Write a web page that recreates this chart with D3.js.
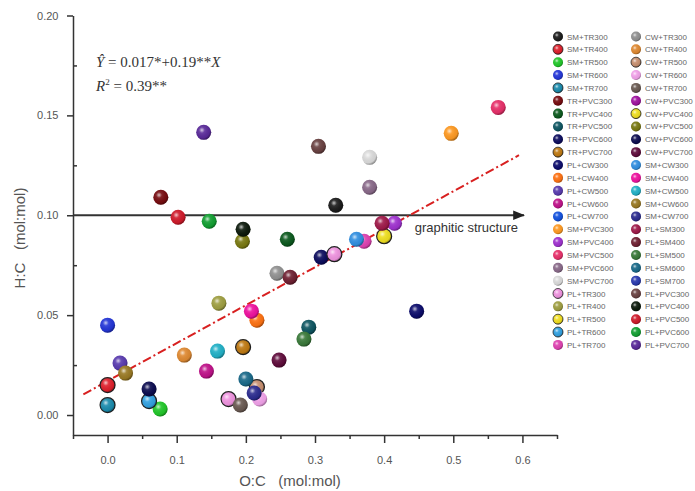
<!DOCTYPE html>
<html>
<head>
<meta charset="utf-8">
<script src="https://cdn.jsdelivr.net/npm/d3@7"></script>
<style>
    body { margin: 0; background: #fff; }
    svg { display: block; font-family: "Liberation Sans", Arial, sans-serif; }
    .tick text { fill: #555; font-size: 11px; }
    .domain, .tick line { stroke: #333; stroke-width: 1.5; }
    .legend-text { fill: #666; font-size: 8px; }
    .axis-title { fill: #555; font-size: 15px; }
    .eq { font-family: "Liberation Serif", "Times New Roman", serif; font-size: 15px; fill: #333; }
</style>
</head>
<body>
<div id="chart"></div>
<script>
(function() {
    var width = 695,
        height = 491;

    // legend categories & colours (two columns)
    var legend_left = ['SM+TR300', 'SM+TR400', 'SM+TR500', 'SM+TR600', 'SM+TR700',
        'TR+PVC300', 'TR+PVC400', 'TR+PVC500', 'TR+PVC600', 'TR+PVC700',
        'PL+CW300', 'PL+CW400', 'PL+CW500', 'PL+CW600', 'PL+CW700',
        'SM+PVC300', 'SM+PVC400', 'SM+PVC500', 'SM+PVC600', 'SM+PVC700',
        'PL+TR300', 'PL+TR400', 'PL+TR500', 'PL+TR600', 'PL+TR700'];
    var legend_right = ['CW+TR300', 'CW+TR400', 'CW+TR500', 'CW+TR600', 'CW+TR700',
        'CW+PVC300', 'CW+PVC400', 'CW+PVC500', 'CW+PVC600', 'CW+PVC700',
        'SM+CW300', 'SM+CW400', 'SM+CW500', 'SM+CW600', 'SM+CW700',
        'PL+SM300', 'PL+SM400', 'PL+SM500', 'PL+SM600', 'PL+SM700',
        'PL+PVC300', 'PL+PVC400', 'PL+PVC500', 'PL+PVC600', 'PL+PVC700'];
    var colors_left = ['#1c1c1c', '#e0202c', '#22c82a', '#2436d8', '#1a8cae',
        '#780c10', '#0c5a1e', '#0e5662', '#0c0c5e', '#c07a12',
        '#0c0c6c', '#ff7212', '#5a3cb0', '#c0128a', '#1252e0',
        '#ff9a22', '#a032d0', '#e8306a', '#8a6a8a', '#dcdcdc',
        '#f094e0', '#a0a042', '#f2e020', '#32a2e2', '#e042b2'];
    var colors_right = ['#929292', '#e08a32', '#c89070', '#f2a2ea', '#6a5a52',
        '#a012a0', '#f0e020', '#7a7a12', '#0c0c50', '#600c3c',
        '#3290e2', '#f012a0', '#22b2c8', '#9a7a24', '#2c2c90',
        '#a01a4a', '#702032', '#3a7a3a', '#1a6a8a', '#2a3ab0',
        '#6a4242', '#0c1a0c', '#d01a2a', '#12a032', '#5a2a9a'];
    // entries drawn with a dark rim
    var outlined = ['SM+TR400', 'TR+PVC700', 'PL+TR300', 'PL+TR500', 'PL+TR600',
        'CW+TR500', 'CW+PVC400', 'SM+TR700'];

    // points: O:C (x) and H:C (y)
    var point_cat = ['SM+TR300', 'SM+TR400', 'SM+TR500', 'SM+TR600', 'SM+TR700',
        'TR+PVC300', 'TR+PVC400', 'TR+PVC500', 'TR+PVC600', 'TR+PVC700',
        'PL+CW300', 'PL+CW400', 'PL+CW500', 'PL+CW600',
        'SM+PVC300', 'SM+PVC400', 'SM+PVC500', 'SM+PVC600', 'SM+PVC700',
        'PL+TR300', 'PL+TR400', 'PL+TR600', 'PL+TR700',
        'CW+TR300', 'CW+TR400', 'CW+TR500', 'CW+TR600', 'CW+TR700',
        'CW+PVC400', 'CW+PVC500', 'CW+PVC600', 'CW+PVC700',
        'SM+CW300', 'SM+CW400', 'SM+CW500', 'SM+CW600', 'SM+CW700',
        'PL+SM300', 'PL+SM400', 'PL+SM500', 'PL+SM600',
        'PL+PVC300', 'PL+PVC400', 'PL+PVC500', 'PL+PVC600', 'PL+PVC700',
        'PL+TR300'];
    var point_x = [0.330, 0.000, 0.076, 0.000, 0.000,
        0.077, 0.260, 0.291, 0.309, 0.196,
        0.447, 0.216, 0.018, 0.143,
        0.497, 0.415, 0.565, 0.379, 0.379,
        0.175, 0.161, 0.060, 0.371,
        0.245, 0.111, 0.216, 0.220, 0.192,
        0.400, 0.195, 0.060, 0.248,
        0.360, 0.208, 0.159, 0.026, 0.212,
        0.397, 0.264, 0.284, 0.200,
        0.305, 0.196, 0.102, 0.147, 0.139,
        0.328];
    var point_y = [0.105, 0.015, 0.003, 0.045, 0.005,
        0.109, 0.088, 0.044, 0.079, 0.034,
        0.052, 0.0475, 0.026, 0.022,
        0.141, 0.096, 0.154, 0.114, 0.129,
        0.008, 0.056, 0.007, 0.087,
        0.071, 0.030, 0.014, 0.008, 0.005,
        0.0895, 0.087, 0.013, 0.0275,
        0.088, 0.052, 0.032, 0.021, 0.011,
        0.096, 0.069, 0.038, 0.018,
        0.1345, 0.093, 0.099, 0.097, 0.1415,
        0.0805];

    var x_ticks = [0, 0.1, 0.2, 0.3, 0.4, 0.5, 0.6],
        x_minor = [-0.05, 0.05, 0.15, 0.25, 0.35, 0.45, 0.55, 0.65],
        y_ticks = [0, 0.05, 0.10, 0.15, 0.20],
        y_minor = [0.025, 0.075, 0.125, 0.175];

    var fit = { a: 0.017, b: 0.19, x0: -0.035, x1: 0.595 };

    var color_of = {};
    legend_left.forEach(function(c, i) { color_of[c] = colors_left[i]; });
    legend_right.forEach(function(c, i) { color_of[c] = colors_right[i]; });

    var x = d3.scaleLinear().domain([-0.05, 0.65]).range([73, 557]);
    var y = d3.scaleLinear().domain([-0.01, 0.20]).range([435, 15.5]);

    var svg = d3.select('#chart').append('svg')
        .attr('width', width)
        .attr('height', height);

    // sphere shine
    var defs = svg.append('defs');
    var shine = defs.append('radialGradient')
        .attr('id', 'shine')
        .attr('cx', '38%').attr('cy', '35%').attr('r', '65%');
    shine.append('stop').attr('offset', '0%').attr('stop-color', '#fff').attr('stop-opacity', 0.75);
    shine.append('stop').attr('offset', '30%').attr('stop-color', '#fff').attr('stop-opacity', 0.1);
    shine.append('stop').attr('offset', '80%').attr('stop-color', '#000').attr('stop-opacity', 0.05);
    shine.append('stop').attr('offset', '100%').attr('stop-color', '#000').attr('stop-opacity', 0.35);
    defs.append('marker')
        .attr('id', 'arrow')
        .attr('viewBox', '0 0 10 10')
        .attr('refX', 9).attr('refY', 5)
        .attr('markerWidth', 6).attr('markerHeight', 6)
        .attr('orient', 'auto')
        .append('path')
        .attr('d', 'M0,1 L10,5 L0,9 Z')
        .attr('fill', '#222');

    // axes
    svg.append('g')
        .attr('transform', 'translate(0,435)')
        .call(d3.axisBottom(x).tickValues(x_ticks).tickSize(8).tickSizeOuter(0)
            .tickFormat(d3.format('.1f')))
        .call(function(g) { g.selectAll('text').attr('dy', '1.6em'); });
    svg.append('g')
        .attr('transform', 'translate(0,435)')
        .call(d3.axisBottom(x).tickValues(x_minor).tickSize(4).tickSizeOuter(0).tickFormat(''))
        .call(function(g) { g.select('.domain').remove(); });

    svg.append('g')
        .attr('transform', 'translate(73,0)')
        .call(d3.axisLeft(y).tickValues(y_ticks).tickSize(6).tickSizeOuter(0)
            .tickFormat(d3.format('.2f')))
        .call(function(g) { g.selectAll('text').attr('dx', '-0.5em'); });
    svg.append('g')
        .attr('transform', 'translate(73,0)')
        .call(d3.axisLeft(y).tickValues(y_minor).tickSize(-4).tickSizeOuter(0).tickFormat(''))
        .call(function(g) { g.select('.domain').remove(); });

    svg.append('text')
        .attr('class', 'axis-title')
        .attr('x', 290).attr('y', 486)
        .attr('text-anchor', 'middle')
        .attr('xml:space', 'preserve')
        .text('O:C   (mol:mol)');
    svg.append('text')
        .attr('class', 'axis-title')
        .attr('transform', 'translate(25,238) rotate(-90)')
        .attr('text-anchor', 'middle')
        .attr('xml:space', 'preserve')
        .text('H:C   (mol:mol)');

    // graphitic structure reference line
    svg.append('line')
        .attr('x1', x(-0.05)).attr('y1', y(0.10))
        .attr('x2', 524).attr('y2', y(0.10))
        .attr('stroke', '#333')
        .attr('stroke-width', 2)
        .attr('marker-end', 'url(#arrow)');
    svg.append('text')
        .attr('x', 518).attr('y', 232)
        .attr('text-anchor', 'end')
        .attr('fill', '#333')
        .attr('font-size', '13px')
        .text('graphitic structure');

    // fitted line
    svg.append('line')
        .attr('x1', x(fit.x0)).attr('y1', y(fit.a + fit.b * fit.x0))
        .attr('x2', x(fit.x1)).attr('y2', y(fit.a + fit.b * fit.x1))
        .attr('stroke', '#d82020')
        .attr('stroke-width', 2)
        .attr('stroke-dasharray', '9,3,2,3');

    // points
    var pts = point_cat.map(function(c, i) {
        return { cat: c, x: point_x[i], y: point_y[i] };
    });
    var dots = svg.append('g').selectAll('g')
        .data(pts)
        .enter().append('g')
        .attr('transform', function(d) { return 'translate(' + x(d.x) + ',' + y(d.y) + ')'; });
    dots.append('circle')
        .attr('r', 7.5)
        .attr('fill', function(d) { return color_of[d.cat]; })
        .attr('stroke', function(d) { return outlined.indexOf(d.cat) >= 0 ? '#222' : 'none'; })
        .attr('stroke-width', 1.2);
    dots.append('circle')
        .attr('r', 7.5)
        .attr('fill', 'url(#shine)');

    // equation
    var eq = svg.append('text').attr('class', 'eq').attr('x', 96).attr('y', 67);
    eq.append('tspan').attr('font-style', 'italic').text('\u0176');
    eq.append('tspan').text(' = 0.017*+0.19**');
    eq.append('tspan').attr('font-style', 'italic').text('X');
    var r2 = svg.append('text').attr('class', 'eq').attr('x', 96).attr('y', 91);
    r2.append('tspan').attr('font-style', 'italic').text('R');
    r2.append('tspan').attr('font-size', '9px').attr('dy', -6).text('2');
    r2.append('tspan').attr('dy', 6).text(' = 0.39**');

    // legend
    var row_h = 12.85, top = 36.5;
    function draw_legend(names, colors, mx) {
        var g = svg.append('g');
        names.forEach(function(n, i) {
            var cy = top + i * row_h;
            g.append('circle').attr('cx', mx).attr('cy', cy).attr('r', 5)
                .attr('fill', colors[i])
                .attr('stroke', outlined.indexOf(n) >= 0 ? '#222' : 'none')
                .attr('stroke-width', 0.8);
            g.append('circle').attr('cx', mx).attr('cy', cy).attr('r', 5)
                .attr('fill', 'url(#shine)');
            g.append('text').attr('class', 'legend-text')
                .attr('x', mx + 9).attr('y', cy + 3)
                .text(n);
        });
    }
    draw_legend(legend_left, colors_left, 558);
    draw_legend(legend_right, colors_right, 636);
})();
</script>
</body>
</html>
